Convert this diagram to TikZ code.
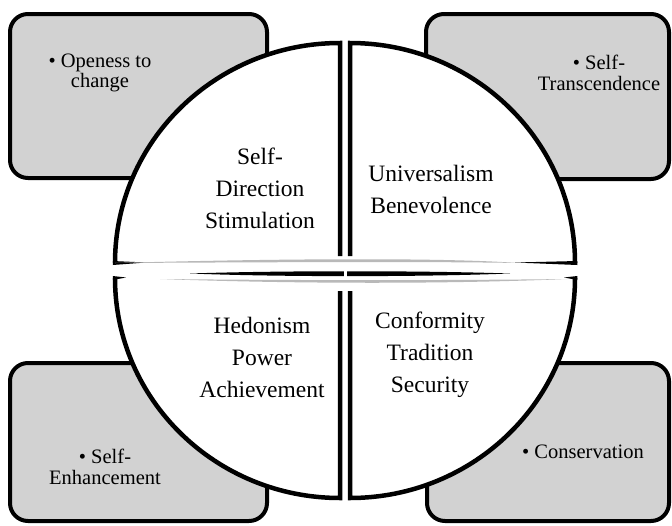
\documentclass[tikz,border=0pt]{standalone}
\usepackage{fontspec}
\setmainfont{Liberation Serif}

\tikzset{
  tag/.style={draw=black, line width=4pt, fill=gray!35, rounded corners=18pt},
  rim/.style={draw=black, line width=4.5pt, line cap=butt},
  value/.style={align=center, font=\fontsize{23.5}{32}\selectfont},
  group/.style={align=center, font=\fontsize{20.5}{20.5}\selectfont},
}

\begin{document}
\begin{tikzpicture}[x=1pt,y=-1pt]
\useasboundingbox (0,0) rectangle (672,525);

% grey value groups behind the circle
\draw[tag] (10,14) rectangle (267,178);
\draw[tag] (426,14) rectangle (669,179);
\draw[tag] (10,363) rectangle (267,521);
\draw[tag] (427,363) rectangle (669,521);

\node[group] (open) at (100,73) {\textbullet\ Openess to\\change};
\node[group] (trans) at (599,73) {\textbullet\ Self-\\Transcendence};
\node[group] (enh) at (105,467) {\textbullet\ Self-\\Enhancement};
\node[group] (cons) at (583,452) {\textbullet\ Conservation};

% four quarter wedges
\fill[white] (340,263) -- (115,263) arc[start angle=180, end angle=270, x radius=225, y radius=220] -- cycle;
\fill[white] (350,263) -- (350,43) arc[start angle=270, end angle=360, x radius=225, y radius=220] -- cycle;
\fill[white] (340,278) -- (115,278) arc[start angle=180, end angle=90, x radius=225, y radius=220] -- cycle;
\fill[white] (350,278) -- (350,498) arc[start angle=90, end angle=0, x radius=225, y radius=220] -- cycle;

\draw[rim] (115,263) arc[start angle=180, end angle=270, x radius=225, y radius=220] -- (340,256);
\draw[rim] (350,256) -- (350,43) arc[start angle=270, end angle=360, x radius=225, y radius=220];
\draw[rim] (115,278) arc[start angle=180, end angle=90, x radius=225, y radius=220] -- (340,291);
\draw[rim] (350,291) -- (350,498) arc[start angle=90, end angle=0, x radius=225, y radius=220];

% shiny seam between the halves
\fill (112.75,261) -- (146,262.5) -- (112.75,265) -- cycle;
\fill (577.25,261) -- (515,262.5) -- (577.25,265) -- cycle;
\fill[gray!55] (115,263) .. controls (300,258) and (450,258) .. (518,263)
  .. controls (440,261.5) and (300,262) .. (115,263) -- cycle;
\fill (190,273.5) .. controls (280,270.5) and (420,270.5) .. (510,273.5)
  .. controls (420,277) and (280,277) .. (190,273.5) -- cycle;
\fill[white] (343.5,268) rectangle (346.5,279);
\fill[gray!55] (160,279) .. controls (300,284) and (450,284) .. (567,279)
  .. controls (450,280.5) and (300,280.5) .. (160,279) -- cycle;
\fill (112.75,276) -- (126,277.5) -- (112.75,280) -- cycle;
\fill (577.25,276) -- (564,277.5) -- (577.25,280) -- cycle;

% values inside the wedges
\node[value] (sd) at (260,188) {Self-\\Direction\\Stimulation};
\node[value] (ub) at (431,189) {Universalism\\Benevolence};
\node[value] (hpa) at (262,357) {Hedonism\\Power\\Achievement};
\node[value] (cts) at (430,355) {Conformity\\Tradition\\Security};
\end{tikzpicture}
\end{document}
